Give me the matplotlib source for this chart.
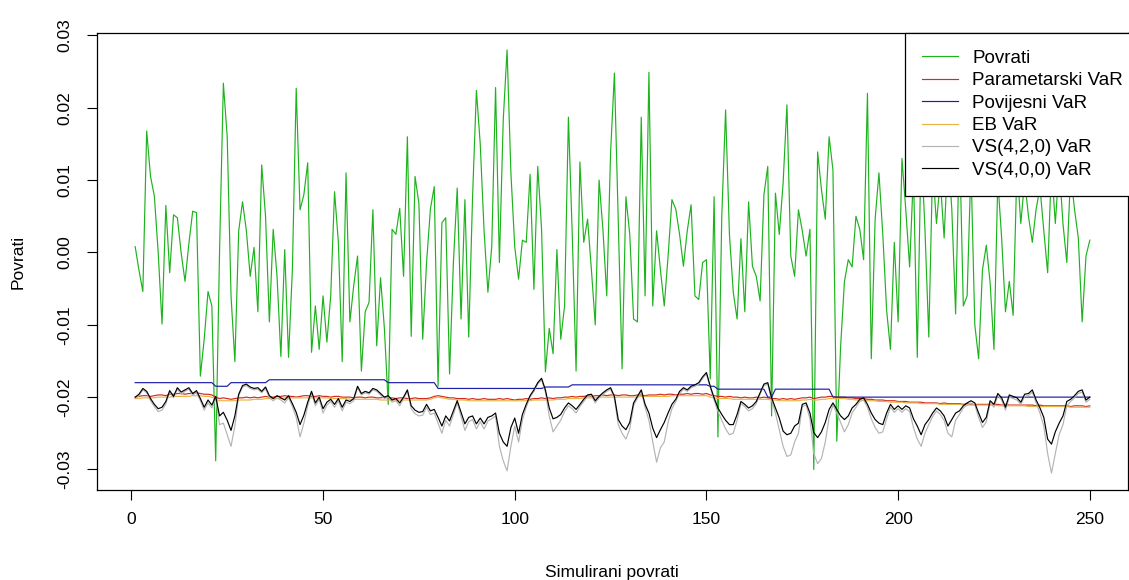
import numpy as np
import matplotlib
matplotlib.use("Agg")
import matplotlib.pyplot as plt

plt.rcParams['font.family'] = ['Liberation Sans', 'DejaVu Sans']
plt.rcParams['axes.unicode_minus'] = False

# --- data ---
povrati = [
    0.0008, -0.0025, -0.0054, 0.0168, 0.0105, 0.0078, 0.0000, -0.0099, 0.0065, -0.0028,
    0.0052, 0.0048, -0.0001, -0.0040, 0.0012, 0.0057, 0.0055, -0.0171, -0.0120,
    -0.0054, -0.0074, -0.0288, 0.0000, 0.0234, 0.0160, -0.0060, -0.0151, 0.0030, 0.0070,
    0.0030, -0.0033, 0.0007, -0.0082, 0.0121, 0.0050, -0.0096, 0.0032, -0.0033, -0.0144,
    0.0004, -0.0145, -0.0024, 0.0227, 0.0059,
    0.0080, 0.0124, -0.0138, -0.0074, -0.0134, -0.0060, -0.0124, -0.0060, 0.0084, 0.0014,
    -0.0151, 0.0110, -0.0096, -0.0046, -0.0005, -0.0164, -0.0082, -0.0069, 0.0059, -0.0129,
    -0.0035, -0.0105, -0.0210, 0.0032, 0.0025, 0.0061,
    -0.0033, 0.0160, -0.0116, 0.0105, 0.0068, -0.0120, -0.0014, 0.0060, 0.0091, -0.0185,
    0.0041, 0.0048, -0.0168, -0.0014, 0.0089, -0.0092, 0.0073, -0.0117, 0.0077, 0.0224,
    0.0150, 0.0030, -0.0055, 0.0008, 0.0228,
    -0.0014, 0.0183, 0.0280, 0.0110, 0.0008, -0.0037, 0.0017, 0.0014, 0.0108, -0.0051,
    0.0119, 0.0032, -0.0165, -0.0105, -0.0140, 0.0004, -0.0120, -0.0074, 0.0187, 0.0025,
    -0.0164, 0.0125, 0.0014, 0.0046, -0.0024, -0.0100,
    0.0100, 0.0032, -0.0060, 0.0138, 0.0248, 0.0041, -0.0161, 0.0077, 0.0025, -0.0092,
    -0.0096, 0.0187, -0.0060, 0.0249, -0.0074, 0.0030, -0.0024, -0.0074, -0.0005, 0.0073,
    0.0060, 0.0025, -0.0019, 0.0030, 0.0066, -0.0060,
    -0.0065, -0.0014, -0.0010, -0.0175, 0.0077, -0.0255, 0.0050, 0.0197, 0.0025, -0.0055,
    -0.0092, 0.0019, -0.0082, 0.0070, -0.0019, -0.0033, -0.0067, 0.0080, 0.0119, -0.0226,
    0.0082, 0.0025, 0.0096, 0.0204, -0.0005,
    -0.0033, 0.0059, 0.0030, -0.0005, 0.0032, -0.0300, 0.0139, 0.0087, 0.0046, 0.0160,
    0.0114, -0.0261, -0.0130, -0.0040, -0.0010, -0.0020, 0.0050, 0.0032, -0.0010, 0.0220,
    -0.0147, 0.0046, 0.0110, 0.0025, -0.0080, -0.0134,
    0.0014, -0.0096, 0.0130, 0.0059, -0.0020, 0.0110, -0.0145, 0.0150, 0.0032, -0.0117,
    0.0120, 0.0040, 0.0100, 0.0020, 0.0140, 0.0060, -0.0085, 0.0160, -0.0074, -0.0060,
    0.0120, -0.0100, -0.0147, -0.0024, 0.0010,
    -0.0042, -0.0134, 0.0100, 0.0020, -0.0082, -0.0040, -0.0087, 0.0120, 0.0040, 0.0100,
    0.0050, 0.0014, 0.0060, 0.0090, 0.0030, -0.0028, 0.0120, 0.0040, 0.0120, 0.0040,
    -0.0014, 0.0110, 0.0060, 0.0020, -0.0096, -0.0005, 0.0017,
]

parametarski = [
    -0.0200, -0.0199, -0.0198, -0.0198, -0.0199, -0.0198, -0.0197, -0.0197, -0.0198, -0.0196,
    -0.0196, -0.0195, -0.0195, -0.0196, -0.0195, -0.0195, -0.0194, -0.0195, -0.0196, -0.0196,
    -0.0197, -0.0200, -0.0202, -0.0201, -0.0202, -0.0203, -0.0202, -0.0201, -0.0201, -0.0200,
    -0.0201, -0.0200, -0.0201, -0.0200, -0.0199, -0.0200, -0.0200, -0.0199, -0.0199, -0.0198,
    -0.0199, -0.0199, -0.0200, -0.0199, -0.0198, -0.0198, -0.0199, -0.0199, -0.0198, -0.0199,
    -0.0199, -0.0200, -0.0199, -0.0199, -0.0200, -0.0200, -0.0200, -0.0201, -0.0200, -0.0200,
    -0.0201, -0.0200, -0.0200, -0.0201, -0.0201, -0.0200, -0.0201, -0.0201, -0.0202, -0.0201,
    -0.0201, -0.0202, -0.0202, -0.0201, -0.0202, -0.0202, -0.0202, -0.0201, -0.0199, -0.0198,
    -0.0199, -0.0200, -0.0201, -0.0201, -0.0202, -0.0202, -0.0202, -0.0203, -0.0202, -0.0203,
    -0.0203, -0.0202, -0.0203, -0.0203, -0.0203, -0.0202, -0.0203, -0.0202, -0.0203, -0.0204,
    -0.0203, -0.0203, -0.0202, -0.0203, -0.0202, -0.0202, -0.0201, -0.0202, -0.0201, -0.0202,
    -0.0201, -0.0201, -0.0200, -0.0200, -0.0199, -0.0200, -0.0199, -0.0199, -0.0198, -0.0199,
    -0.0198, -0.0198, -0.0197, -0.0198, -0.0197, -0.0197, -0.0198, -0.0197, -0.0197, -0.0198,
    -0.0198, -0.0197, -0.0197, -0.0198, -0.0197, -0.0197, -0.0197, -0.0196, -0.0197, -0.0196,
    -0.0196, -0.0197, -0.0196, -0.0196, -0.0195, -0.0196, -0.0195, -0.0195, -0.0196, -0.0195,
    -0.0197, -0.0198, -0.0199, -0.0199, -0.0200, -0.0199, -0.0200, -0.0200, -0.0201, -0.0200,
    -0.0201, -0.0201, -0.0200, -0.0201, -0.0200, -0.0201, -0.0202, -0.0202, -0.0203, -0.0202,
    -0.0203, -0.0202, -0.0203, -0.0202, -0.0201, -0.0201, -0.0200, -0.0202, -0.0201, -0.0200,
    -0.0200, -0.0199, -0.0199, -0.0200, -0.0200, -0.0200, -0.0201, -0.0201, -0.0202, -0.0202,
    -0.0202, -0.0203, -0.0203, -0.0204, -0.0204, -0.0204, -0.0205, -0.0205, -0.0205, -0.0206,
    -0.0206, -0.0206, -0.0207, -0.0207, -0.0207, -0.0207, -0.0208, -0.0208, -0.0208, -0.0208,
    -0.0209, -0.0208, -0.0209, -0.0209, -0.0209, -0.0209, -0.0210, -0.0209, -0.0210, -0.0210,
    -0.0210, -0.0210, -0.0210, -0.0210, -0.0210, -0.0210, -0.0211, -0.0210, -0.0211, -0.0211,
    -0.0211, -0.0211, -0.0211, -0.0211, -0.0211, -0.0212, -0.0211, -0.0212, -0.0212, -0.0212,
    -0.0212, -0.0212, -0.0212, -0.0212, -0.0213, -0.0212, -0.0212, -0.0212, -0.0213, -0.0212,
]

# historical VaR is a step series
povijesni = ([-0.0180] * 21 + [-0.0185] * 4 + [-0.0180] * 10 + [-0.0176] * 31
             + [-0.0180] * 13 + [-0.0188] * 28 + [-0.0186] * 7 + [-0.0183] * 36
             + [-0.0185] * 2 + [-0.0189] * 13 + [-0.0200] * 2 + [-0.0189] * 15
             + [-0.0200] * 68)

eb = [
    -0.0202, -0.0202, -0.0201, -0.0201, -0.0201, -0.0201, -0.0200, -0.0200, -0.0200, -0.0200,
    -0.0199, -0.0199, -0.0199, -0.0199, -0.0199, -0.0198, -0.0198, -0.0198, -0.0199, -0.0199,
    -0.0200, -0.0203, -0.0205, -0.0205, -0.0205, -0.0205, -0.0205, -0.0204, -0.0204, -0.0204,
    -0.0204, -0.0203, -0.0203, -0.0203, -0.0202, -0.0202, -0.0202, -0.0202, -0.0202, -0.0201,
    -0.0201, -0.0201, -0.0201, -0.0201, -0.0201, -0.0201, -0.0201, -0.0201, -0.0201, -0.0201,
    -0.0201, -0.0202, -0.0202, -0.0202, -0.0202, -0.0202, -0.0203, -0.0203, -0.0203, -0.0203,
    -0.0203, -0.0203, -0.0203, -0.0203, -0.0204, -0.0204, -0.0204, -0.0204, -0.0204, -0.0204,
    -0.0204, -0.0204, -0.0204, -0.0204, -0.0204, -0.0204, -0.0204, -0.0203, -0.0201, -0.0200,
    -0.0201, -0.0202, -0.0203, -0.0203, -0.0204, -0.0204, -0.0204, -0.0205, -0.0205, -0.0205,
    -0.0205, -0.0205, -0.0205, -0.0205, -0.0205, -0.0205, -0.0205, -0.0205, -0.0205, -0.0205,
    -0.0205, -0.0205, -0.0205, -0.0205, -0.0204, -0.0204, -0.0204, -0.0204, -0.0204, -0.0204,
    -0.0203, -0.0203, -0.0203, -0.0202, -0.0202, -0.0202, -0.0202, -0.0201, -0.0201, -0.0201,
    -0.0201, -0.0200, -0.0200, -0.0200, -0.0200, -0.0200, -0.0200, -0.0200, -0.0200, -0.0200,
    -0.0200, -0.0200, -0.0199, -0.0199, -0.0199, -0.0199, -0.0199, -0.0199, -0.0199, -0.0199,
    -0.0198, -0.0198, -0.0198, -0.0198, -0.0198, -0.0198, -0.0198, -0.0198, -0.0198, -0.0198,
    -0.0200, -0.0201, -0.0202, -0.0202, -0.0202, -0.0202, -0.0203, -0.0203, -0.0203, -0.0203,
    -0.0203, -0.0203, -0.0203, -0.0203, -0.0203, -0.0203, -0.0204, -0.0204, -0.0205, -0.0205,
    -0.0205, -0.0205, -0.0205, -0.0205, -0.0204, -0.0204, -0.0203, -0.0204, -0.0204, -0.0203,
    -0.0203, -0.0202, -0.0202, -0.0202, -0.0202, -0.0202, -0.0203, -0.0203, -0.0204, -0.0204,
    -0.0204, -0.0205, -0.0205, -0.0205, -0.0206, -0.0206, -0.0206, -0.0207, -0.0207, -0.0207,
    -0.0207, -0.0208, -0.0208, -0.0208, -0.0208, -0.0209, -0.0209, -0.0209, -0.0209, -0.0209,
    -0.0210, -0.0210, -0.0210, -0.0210, -0.0210, -0.0210, -0.0211, -0.0211, -0.0211, -0.0211,
    -0.0211, -0.0211, -0.0211, -0.0211, -0.0211, -0.0212, -0.0212, -0.0212, -0.0212, -0.0212,
    -0.0212, -0.0212, -0.0212, -0.0213, -0.0213, -0.0213, -0.0213, -0.0213, -0.0213, -0.0213,
    -0.0213, -0.0213, -0.0213, -0.0213, -0.0214, -0.0214, -0.0214, -0.0214, -0.0214, -0.0214,
]

vs420 = [
    -0.0202, -0.0198, -0.0190, -0.0194, -0.0205, -0.0213, -0.0220, -0.0218, -0.0209, -0.0193,
    -0.0201, -0.0189, -0.0196, -0.0192, -0.0189, -0.0197, -0.0194, -0.0205, -0.0218, -0.0208,
    -0.0215, -0.0201,
    -0.0238, -0.0236, -0.0252, -0.0268, -0.0240,
    -0.0198, -0.0186, -0.0184, -0.0188, -0.0190, -0.0189, -0.0194, -0.0188, -0.0201, -0.0205,
    -0.0201, -0.0204, -0.0208, -0.0201, -0.0213, -0.0228,
    -0.0255, -0.0236, -0.0212,
    -0.0194, -0.0212, -0.0203, -0.0222, -0.0211, -0.0206, -0.0214, -0.0205, -0.0219, -0.0207,
    -0.0209, -0.0205, -0.0187, -0.0197, -0.0194, -0.0196, -0.0190, -0.0192, -0.0197, -0.0202,
    -0.0200, -0.0207, -0.0205, -0.0212,
    -0.0202, -0.0192, -0.0216, -0.0223, -0.0226, -0.0225, -0.0214, -0.0224, -0.0222, -0.0236,
    -0.0250, -0.0232, -0.0240, -0.0224, -0.0208, -0.0227, -0.0246, -0.0234, -0.0231, -0.0244,
    -0.0234, -0.0244, -0.0233, -0.0230, -0.0226,
    -0.0268, -0.0288, -0.0302, -0.0268, -0.0240, -0.0262, -0.0232, -0.0214,
    -0.0200, -0.0192, -0.0182, -0.0176, -0.0193,
    -0.0226, -0.0248, -0.0240, -0.0232, -0.0220, -0.0212, -0.0216, -0.0222, -0.0213, -0.0206,
    -0.0199, -0.0198, -0.0208,
    -0.0201, -0.0196, -0.0192, -0.0189, -0.0202,
    -0.0238, -0.0250, -0.0258, -0.0244, -0.0212,
    -0.0201, -0.0192,
    -0.0214, -0.0232, -0.0262, -0.0290, -0.0270, -0.0262, -0.0235, -0.0216,
    -0.0206, -0.0195, -0.0189, -0.0192, -0.0187, -0.0185, -0.0182, -0.0174, -0.0168,
    -0.0187, -0.0204, -0.0220, -0.0232, -0.0244, -0.0252, -0.0250, -0.0232,
    -0.0209, -0.0213, -0.0219, -0.0216, -0.0209, -0.0196, -0.0184, -0.0182, -0.0204,
    -0.0222, -0.0245, -0.0268, -0.0282, -0.0280, -0.0262, -0.0250,
    -0.0213, -0.0211, -0.0230,
    -0.0278, -0.0292, -0.0285, -0.0262, -0.0228,
    -0.0211, -0.0222, -0.0235, -0.0248, -0.0238, -0.0222, -0.0214,
    -0.0206, -0.0204, -0.0214,
    -0.0230, -0.0242, -0.0250, -0.0248, -0.0230, -0.0214,
    -0.0221, -0.0216, -0.0221, -0.0216, -0.0220,
    -0.0242, -0.0258, -0.0268, -0.0250, -0.0238,
    -0.0227, -0.0219, -0.0224, -0.0232,
    -0.0250, -0.0255, -0.0232, -0.0224,
    -0.0215, -0.0211, -0.0208, -0.0211, -0.0228,
    -0.0242, -0.0234,
    -0.0208, -0.0214, -0.0198, -0.0204, -0.0218, -0.0200, -0.0202, -0.0204, -0.0210, -0.0199,
    -0.0198, -0.0193, -0.0208, -0.0222,
    -0.0240, -0.0278, -0.0305, -0.0278, -0.0252, -0.0238, -0.0212,
    -0.0206, -0.0201, -0.0195, -0.0193, -0.0207, -0.0203,
]

vs400 = [
    -0.0200, -0.0196, -0.0188, -0.0192, -0.0202, -0.0210, -0.0216, -0.0214, -0.0206, -0.0191,
    -0.0199, -0.0187, -0.0193, -0.0190, -0.0187, -0.0195, -0.0191, -0.0202, -0.0214, -0.0204,
    -0.0211, -0.0199, -0.0226, -0.0221, -0.0232, -0.0246, -0.0226, -0.0196, -0.0184, -0.0182,
    -0.0186, -0.0188, -0.0187, -0.0192, -0.0186, -0.0198, -0.0202, -0.0198, -0.0201, -0.0204,
    -0.0198, -0.0209, -0.0221, -0.0238, -0.0225, -0.0207, -0.0192, -0.0208, -0.0200, -0.0216,
    -0.0207, -0.0203, -0.0210, -0.0202, -0.0214, -0.0204, -0.0206, -0.0202, -0.0185, -0.0195,
    -0.0192, -0.0194, -0.0188, -0.0190, -0.0195, -0.0200, -0.0198, -0.0204, -0.0202, -0.0208,
    -0.0200, -0.0190, -0.0212, -0.0218, -0.0221, -0.0220, -0.0210, -0.0219, -0.0217, -0.0228,
    -0.0240, -0.0226, -0.0233, -0.0219, -0.0205, -0.0221, -0.0237, -0.0228, -0.0226, -0.0237,
    -0.0229, -0.0237, -0.0228, -0.0226, -0.0222, -0.0250, -0.0262, -0.0268, -0.0242, -0.0229,
    -0.0250, -0.0224, -0.0210, -0.0198, -0.0190, -0.0180, -0.0174, -0.0190, -0.0215, -0.0230,
    -0.0228, -0.0224, -0.0215, -0.0208, -0.0212, -0.0217, -0.0210, -0.0203, -0.0197, -0.0196,
    -0.0205, -0.0199, -0.0194, -0.0190, -0.0187, -0.0199, -0.0231, -0.0240, -0.0245, -0.0235,
    -0.0208, -0.0199, -0.0190, -0.0210, -0.0222, -0.0243, -0.0256, -0.0245, -0.0235, -0.0222,
    -0.0210, -0.0203, -0.0192, -0.0187, -0.0190, -0.0185, -0.0183, -0.0180, -0.0172, -0.0166,
    -0.0185, -0.0201, -0.0215, -0.0224, -0.0232, -0.0238, -0.0238, -0.0224, -0.0206, -0.0210,
    -0.0215, -0.0212, -0.0206, -0.0194, -0.0182, -0.0180, -0.0201, -0.0215, -0.0229, -0.0247,
    -0.0252, -0.0250, -0.0240, -0.0236, -0.0210, -0.0208, -0.0222, -0.0249, -0.0256, -0.0248,
    -0.0235, -0.0217, -0.0208, -0.0217, -0.0226, -0.0231, -0.0226, -0.0215, -0.0210, -0.0203,
    -0.0201, -0.0210, -0.0222, -0.0231, -0.0236, -0.0238, -0.0222, -0.0210, -0.0217, -0.0212,
    -0.0217, -0.0212, -0.0215, -0.0230, -0.0240, -0.0252, -0.0238, -0.0231, -0.0222, -0.0215,
    -0.0219, -0.0226, -0.0240, -0.0231, -0.0222, -0.0219, -0.0212, -0.0208, -0.0205, -0.0208,
    -0.0222, -0.0235, -0.0228, -0.0205, -0.0210, -0.0195, -0.0201, -0.0214, -0.0197, -0.0199,
    -0.0201, -0.0207, -0.0196, -0.0195, -0.0190, -0.0204, -0.0215, -0.0228, -0.0258, -0.0265,
    -0.0248, -0.0236, -0.0226, -0.0206, -0.0203, -0.0198, -0.0192, -0.0190, -0.0204, -0.0200,
]

series = [
    ("Povrati", povrati, "#1db31d"),
    ("Parametarski VaR", parametarski, "#d42a1e"),
    ("Povijesni VaR", povijesni, "#1c1ca6"),
    ("EB VaR", eb, "#e8b447"),
    ("VS(4,2,0) VaR", vs420, "#b4b4b4"),
    ("VS(4,0,0) VaR", vs400, "#000000"),
]

W, H = 1129, 580
fig = plt.figure(figsize=(W / 100, H / 100), dpi=100)
ax = fig.add_axes([97 / W, 1 - 490 / H, (1128 - 97) / W, (490 - 33) / H])

for name, vals, col in series:
    x = np.arange(1, len(vals) + 1)
    ax.plot(x, vals, color=col, linewidth=0.85, label=name)

# R style axis ranges (4% padding)
allv = np.concatenate([np.asarray(v) for _, v, _ in series])
lo, hi = allv.min(), allv.max()
pad = 0.04 * (hi - lo)
ax.set_ylim(lo - pad, hi + pad)
n = len(povrati)
ax.set_xlim(1 - 0.04 * (n - 1), n + 0.04 * (n - 1))

ax.set_xticks([0, 50, 100, 150, 200, 250])
ax.set_yticks([-0.03, -0.02, -0.01, 0.0, 0.01, 0.02, 0.03])
ax.set_yticklabels([f"{v:.2f}" for v in ax.get_yticks()], rotation=90, va="center")
ax.tick_params(axis="both", direction="out", length=7, width=0.8, labelsize=12.5,
               colors="black")
ax.tick_params(axis="x", pad=9)
ax.tick_params(axis="y", pad=11)
for s in ax.spines.values():
    s.set_linewidth(0.9)

fig.text(612 / W, 1 - 572 / H, "Simulirani povrati", ha="center", va="center", fontsize=12.5)
fig.text(18 / W, 1 - 262 / H, "Povrati", ha="center", va="center", rotation=90, fontsize=12.5)

# legend sits at top right, running up to the right edge like the original
leg = ax.legend(loc="upper left", bbox_to_anchor=(905 / W, 1 - 33 / H),
                bbox_transform=fig.transFigure, borderaxespad=0,
                fancybox=False, framealpha=1, edgecolor="black", fontsize=13.5,
                handlelength=1.95, handletextpad=0.75, labelspacing=0.28,
                borderpad=0.9)
leg.get_frame().set_linewidth(0.9)

fig.savefig("out.png", dpi=100)
